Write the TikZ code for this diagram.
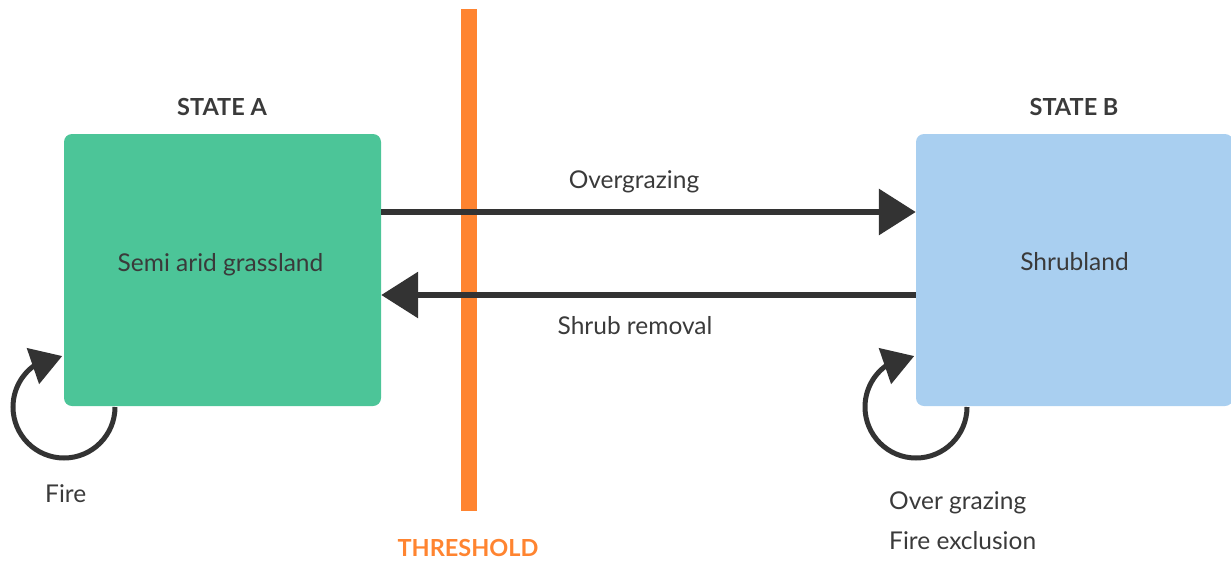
\documentclass[tikz,border=0pt]{standalone}
\usepackage{fontspec}
\setmainfont{Lato}
\usetikzlibrary{arrows.meta,bending}
\definecolor{stateA}{HTML}{4CC598}
\definecolor{stateB}{HTML}{A9CFF0}
\definecolor{thresh}{HTML}{FF8430}
\definecolor{ink}{HTML}{333333}
\definecolor{txt}{HTML}{3A3A3A}
\tikzset{
  statebox/.style={rounded corners=8pt, minimum width=317pt, minimum height=272pt, inner sep=0pt},
  heading/.style={text=txt, font=\fontsize{23.5}{27}\selectfont\bfseries, inner sep=0pt},
  lbl/.style={text=txt, font=\fontsize{24.5}{28}\selectfont, inner sep=0pt},
  bigarrow/.style={ink, line width=6.5pt, -{Triangle[length=37pt,width=45pt]}},
  loop/.style={ink, line width=5pt, -{Triangle[length=31pt,width=37pt]}},
}
\begin{document}
\begin{tikzpicture}[x=1pt,y=1pt]
\useasboundingbox (0,0) rectangle (1231,-560);
% threshold
\coordinate (thtop) at (469,-9);
\coordinate (thbot) at (469,-511);
\draw[thresh, line width=16pt] (thtop) -- (thbot);
\node[text=thresh, font=\fontsize{23.5}{27}\selectfont\bfseries, inner sep=0pt] (thl) at (468,-548) {THRESHOLD};
% states
\node[statebox, fill=stateA] (A) at (222.5,-270) {};
\node[statebox, fill=stateB] (B) at (1074.5,-270) {};
\node[lbl] (tA) at ([xshift=-2pt,yshift=5pt]A.center) {Semi arid grassland};
\node[lbl] (tB) at ([yshift=8pt]B.center) {Shrubland};
\node[heading] (hA) at (222,-107) {STATE A};
\node[heading] (hB) at (1074,-107) {STATE B};
% transitions
\draw[bigarrow] ([yshift=58pt]A.east) -- ([yshift=58pt]B.west);
\draw[bigarrow] ([yshift=-25pt]B.west) -- ([yshift=-25pt]A.east);
\node[lbl] (og) at (634,-182) {Overgrazing};
\node[lbl] (sr) at (635,-326) {Shrub removal};
% self loops
\coordinate (lA) at (115,-407);
\draw[loop] (lA) arc[start angle=0, end angle=-268, radius=51pt];
\coordinate (lB) at (967,-407);
\draw[loop] (lB) arc[start angle=0, end angle=-268, radius=51pt];
\node[lbl, anchor=west] (fire) at (45,-494) {Fire};
\node[lbl, anchor=west] (og2) at (889,-503) {Over grazing};
\node[lbl, anchor=west] (fe) at (889,-541) {Fire exclusion};
\end{tikzpicture}
\end{document}
